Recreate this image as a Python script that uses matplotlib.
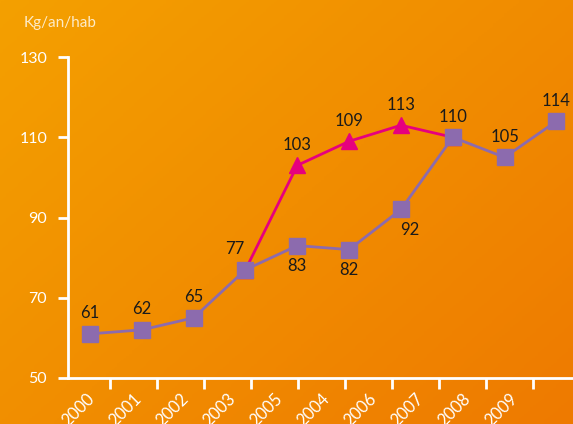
import numpy as np
import matplotlib
matplotlib.use('Agg')
import matplotlib.pyplot as plt
from matplotlib.colors import LinearSegmentedColormap

plt.rcParams['font.family'] = ['Lato', 'DejaVu Sans']

# Data
years = ['2000', '2001', '2002', '2003', '2005', '2004', '2006', '2007', '2008', '2009']
purple_vals = [61, 62, 65, 77, 83, 82, 92, 110, 105, 114]
pink_idx = [3, 4, 5, 6, 7]
pink_vals = [77, 103, 109, 113, 110]
purple_label_pos = ['above', 'above', 'above', 'aboveleft', 'below', 'below', 'belowright',
                    'none', 'above', 'above']
pink_label_pos = ['none', 'above', 'above', 'above', 'above']

PURPLE = '#8C6BAE'
PINK = '#E6007E'

fig = plt.figure(figsize=(5.73, 4.24), dpi=100)

# orange gradient background
bg = fig.add_axes([0, 0, 1, 1], zorder=-10)
gx, gy = np.meshgrid(np.linspace(0, 1, 200), np.linspace(0, 1, 200))
grad = 0.55 * gx + 0.45 * gy
cmap = LinearSegmentedColormap.from_list('bg', ['#F4A000', '#EE7A00'])
bg.imshow(grad, cmap=cmap, aspect='auto', extent=[0, 1, 0, 1], origin='upper')
bg.axis('off')

ax = fig.add_axes([0.1187, 0.1085, 0.8813, 0.757])
ax.patch.set_alpha(0)
x = np.arange(len(years))
ax.set_xlim(-0.425, 9.32)
ax.set_ylim(50, 130)

ax.plot(pink_idx, pink_vals, color=PINK, lw=2, marker='^', ms=11, zorder=3, clip_on=False)
ax.plot(x, purple_vals, color=PURPLE, lw=2, marker='s', ms=11.5, zorder=4, clip_on=False)

offs = {'above': (0, 9, 'center', 'bottom'), 'below': (0, -9, 'center', 'top'),
        'aboveleft': (-8, 9, 'center', 'bottom'), 'belowright': (6, -9, 'center', 'top')}
for xi, v, p in zip(x, purple_vals, purple_label_pos):
    if p == 'none':
        continue
    dx, dy, ha, va = offs[p]
    ax.annotate(str(v), (xi, v), xytext=(dx, dy), textcoords='offset points',
                ha=ha, va=va, fontsize=12, color='#1a1a1a')
for xi, v, p in zip(pink_idx, pink_vals, pink_label_pos):
    if p == 'none':
        continue
    dx, dy, ha, va = offs[p]
    ax.annotate(str(v), (xi, v), xytext=(dx, dy), textcoords='offset points',
                ha=ha, va=va, fontsize=12, color='#1a1a1a')

# spines / ticks
for s in ['top', 'right']:
    ax.spines[s].set_visible(False)
for s in ['left', 'bottom']:
    ax.spines[s].set_color('white')
    ax.spines[s].set_linewidth(2)

ax.set_yticks([50, 70, 90, 110, 130])
ax.set_yticklabels(['50', '70', '90', '110', '130'], color='white', fontsize=11.5)
ax.tick_params(axis='y', colors='white', length=7, width=2, pad=8)

# x ticks are spaced independently of the points in the original
tick_pos = 0.386 + 0.907 * np.arange(len(years))
ax.set_xticks(tick_pos)
ax.set_xticklabels([])
ax.tick_params(axis='x', colors='white', length=8, width=2, direction='out')
for tp, lab in zip(tick_pos, years):
    ax.annotate(lab, (tp, 50), xytext=(-17, -9), textcoords='offset points',
                ha='right', va='top', rotation=45, rotation_mode='anchor',
                fontsize=12, color='white', annotation_clip=False)

fig.text(0.042, 0.945, 'Kg/an/hab', color='#FDEBC8', fontsize=11, ha='left', va='center')

fig.savefig('out.png', dpi=100)
